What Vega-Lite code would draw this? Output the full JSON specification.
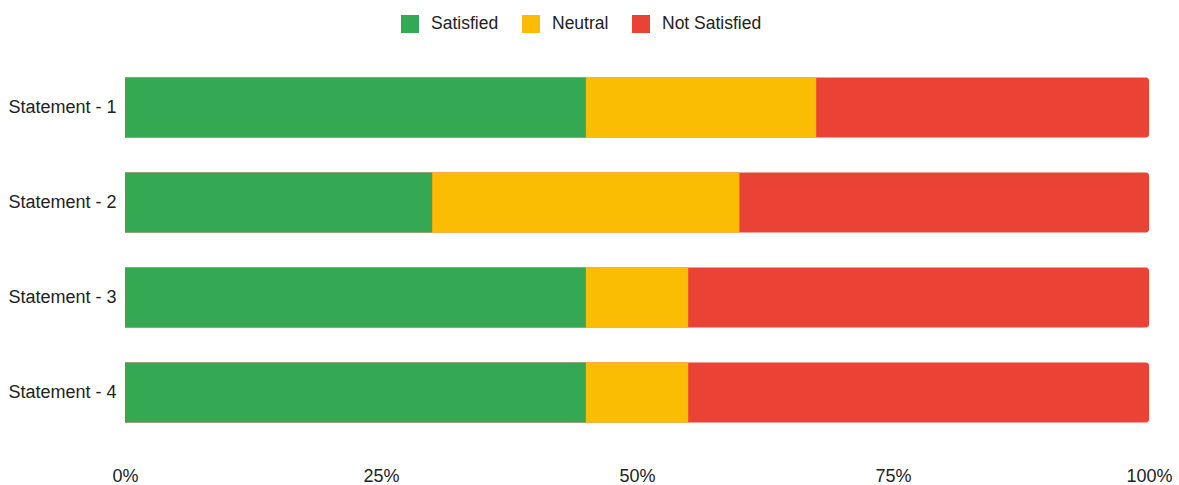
{
  "$schema": "https://vega.github.io/schema/vega-lite/v6.json",
  "width": 1024,
  "height": 380,
  "autosize": {"type": "none"},
  "padding": {"left": 125, "top": 60, "right": 30, "bottom": 45},
  "background": "white",
  "config": {
    "font": "Liberation Sans",
    "view": {"stroke": null},
    "axis": {"labelFont": "Liberation Sans", "labelFontSize": 18, "labelColor": "#222222", "domain": false, "ticks": false, "grid": false, "title": null},
    "legend": {"labelFont": "Liberation Sans", "labelFontSize": 17.5, "labelColor": "#222222"}
  },
  "data": {
    "values": [
      {"statement": "Statement - 1", "category": "Satisfied", "value": 45},
      {"statement": "Statement - 1", "category": "Neutral", "value": 22.5},
      {"statement": "Statement - 1", "category": "Not Satisfied", "value": 32.5},
      {"statement": "Statement - 2", "category": "Satisfied", "value": 30},
      {"statement": "Statement - 2", "category": "Neutral", "value": 30},
      {"statement": "Statement - 2", "category": "Not Satisfied", "value": 40},
      {"statement": "Statement - 3", "category": "Satisfied", "value": 45},
      {"statement": "Statement - 3", "category": "Neutral", "value": 10},
      {"statement": "Statement - 3", "category": "Not Satisfied", "value": 45},
      {"statement": "Statement - 4", "category": "Satisfied", "value": 45},
      {"statement": "Statement - 4", "category": "Neutral", "value": 10},
      {"statement": "Statement - 4", "category": "Not Satisfied", "value": 45}
    ]
  },
  "encoding": {
    "y": {
      "field": "statement",
      "type": "nominal",
      "sort": null,
      "scale": {"paddingInner": 0.37, "paddingOuter": 0.185},
      "axis": {"labelPadding": 9}
    }
  },
  "layer": [
    {
      "mark": {"type": "bar", "color": "#EA4335", "cornerRadiusEnd": 3},
      "encoding": {
        "x": {
          "aggregate": "sum",
          "field": "value",
          "type": "quantitative",
          "stack": null,
          "scale": {"domain": [0, 100], "nice": false},
          "axis": {"values": [0, 25, 50, 75, 100], "labelExpr": "datum.value + '%'", "labelPadding": 27, "labelFlush": false}
        }
      }
    },
    {
      "transform": [{"filter": "datum.category !== 'Not Satisfied'"}],
      "mark": {"type": "bar"},
      "encoding": {
        "x": {"field": "value", "type": "quantitative", "stack": "zero"},
        "order": {"field": "category", "sort": "descending"},
        "color": {
          "field": "category",
          "type": "nominal",
          "sort": ["Satisfied", "Neutral", "Not Satisfied"],
          "scale": {"domain": ["Satisfied", "Neutral", "Not Satisfied"], "range": ["#34A853", "#FBBC04", "#EA4335"]},
          "legend": {
            "title": null,
            "orient": "none",
            "direction": "horizontal",
            "legendX": 276,
            "legendY": -45,
            "symbolType": "square",
            "symbolSize": 324,
            "symbolStrokeWidth": 0,
            "symbolOpacity": 1,
            "labelOffset": 12,
            "columnPadding": 23
          }
        }
      }
    }
  ]
}
